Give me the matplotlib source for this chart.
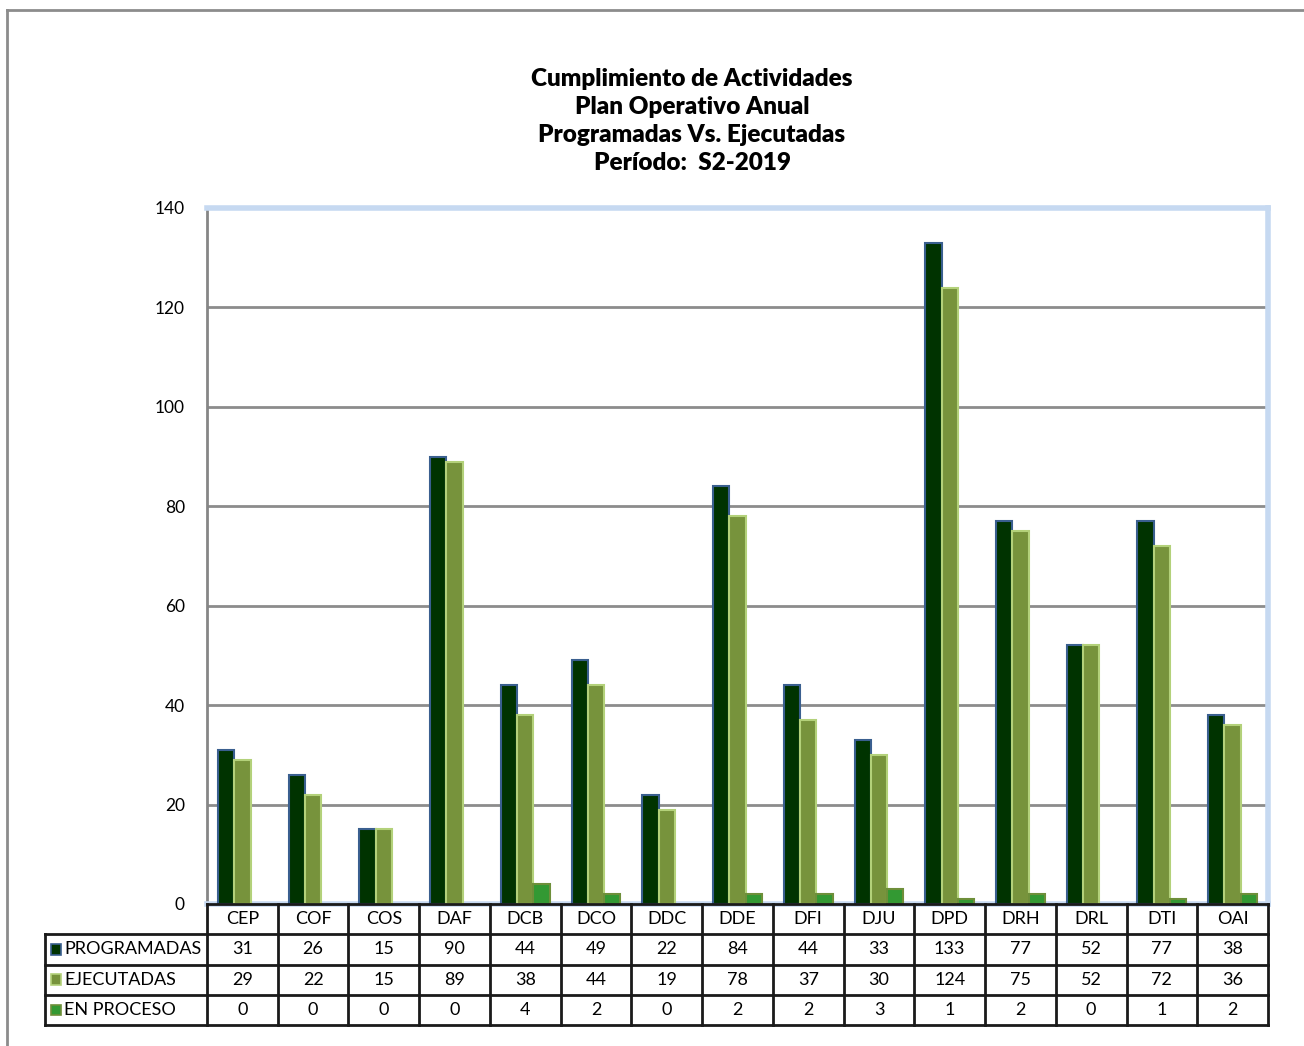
import numpy as np
import matplotlib.pyplot as plt
from matplotlib.lines import Line2D

# data
categorias = ["CEP", "COF", "COS", "DAF", "DCB", "DCO", "DDC", "DDE", "DFI", "DJU", "DPD", "DRH", "DRL", "DTI", "OAI"]
programadas = [31, 26, 15, 90, 44, 49, 22, 84, 44, 33, 133, 77, 52, 77, 38]
ejecutadas = [29, 22, 15, 89, 38, 44, 19, 78, 37, 30, 124, 75, 52, 72, 36]
en_proceso = [0, 0, 0, 0, 4, 2, 0, 2, 2, 3, 1, 2, 0, 1, 2]
series_names = ["PROGRAMADAS", "EJECUTADAS", "EN PROCESO"]
yticks = [0, 20, 40, 60, 80, 100, 120, 140]
title_lines = ["Cumplimiento de Actividades", "Plan Operativo Anual",
               "Programadas Vs. Ejecutadas", "Período:  S2-2019"]

fills = ["#003300", "#77933C", "#339933"]
edges = ["#3A5F8F", "#B3D17A", "#6E8F3A"]

W, H = 1304, 1046
fig = plt.figure(figsize=(W / 100, H / 100), dpi=100)
plt.rcParams['font.family'] = ['Lato', 'DejaVu Sans']

# outer frame (left + top)
fig.add_artist(Line2D([7 / W, 7 / W], [0, 1 - 10 / H], color="#8C8C8C", lw=2, transform=fig.transFigure))
fig.add_artist(Line2D([7 / W, 1], [1 - 10 / H, 1 - 10 / H], color="#8C8C8C", lw=2, transform=fig.transFigure))

# title
for k, t in enumerate(title_lines):
    fig.text(692 / W, 1 - (79 + 28 * k) / H, t, ha="center", va="center",
             fontsize=17.5, fontweight="heavy", color="#000000")

# bar axes
x_left, x_right, y_top, y_bot = 207, 1268, 208, 904
ax = fig.add_axes([x_left / W, 1 - y_bot / H, (x_right - x_left) / W, (y_bot - y_top) / H])
x = np.arange(len(categorias))
w = 0.23
for s, (vals, off) in enumerate(zip([programadas, ejecutadas, en_proceso], [-w, 0, w])):
    lw = [1.5 if v > 0 else 0 for v in vals]
    ax.bar(x + off, vals, width=w, color=fills[s], edgecolor=edges[s], linewidth=lw, zorder=3)

ax.set_xlim(-0.5, len(categorias) - 0.5)
ax.set_ylim(0, 140)
ax.set_yticks(yticks)
ax.set_yticklabels([str(v) for v in yticks], fontsize=12.5)
ax.set_xticks([])
ax.tick_params(axis="y", length=0, pad=16)
ax.grid(axis="y", color="#8C8C8C", lw=2, zorder=1)
for sp in ["top", "right", "bottom"]:
    ax.spines[sp].set_color("#C6D9F1")
    ax.spines[sp].set_linewidth(4)
ax.spines["left"].set_color("#868686")
ax.spines["left"].set_linewidth(2)

# data table below
cat_w = (x_right - x_left) / len(categorias)
lab_cols = (x_left - 45) / cat_w
tx0 = -0.5 - lab_cols
tx1 = len(categorias) - 0.5
tab = fig.add_axes([45 / W, 1 - 1025 / H, (x_right - 45) / W, (1025 - 904) / H])
tab.set_xlim(tx0, tx1)
tab.set_ylim(4, 0)
tab.axis("off")
lc = "#1A1A1A"
# horizontal lines
tab.plot([-0.5, tx1], [0, 0], color=lc, lw=2, clip_on=False)
for r in [1, 2, 3, 4]:
    tab.plot([tx0, tx1], [r, r], color=lc, lw=2, clip_on=False)
# vertical lines
tab.plot([tx0, tx0], [1, 4], color=lc, lw=2, clip_on=False)
for c in range(len(categorias) + 1):
    tab.plot([c - 0.5, c - 0.5], [0, 4], color=lc, lw=2, clip_on=False)

for i, cat in enumerate(categorias):
    tab.text(i, 0.5, cat, ha="center", va="center", fontsize=13)
for s, vals in enumerate([programadas, ejecutadas, en_proceso]):
    yy = s + 1.5
    for i, v in enumerate(vals):
        tab.text(i, yy, str(v), ha="center", va="center", fontsize=13)
    # legend key
    kx = tx0 + 6 / cat_w
    ksz = 10 / cat_w
    tab.add_patch(plt.Rectangle((kx, yy - 0.17), ksz, 0.34, facecolor=fills[s],
                                edgecolor=edges[s], lw=1.2, clip_on=False))
    tab.text(kx + ksz + 3 / cat_w, yy, series_names[s], ha="left", va="center", fontsize=13)

fig.savefig("out.png", dpi=100)
